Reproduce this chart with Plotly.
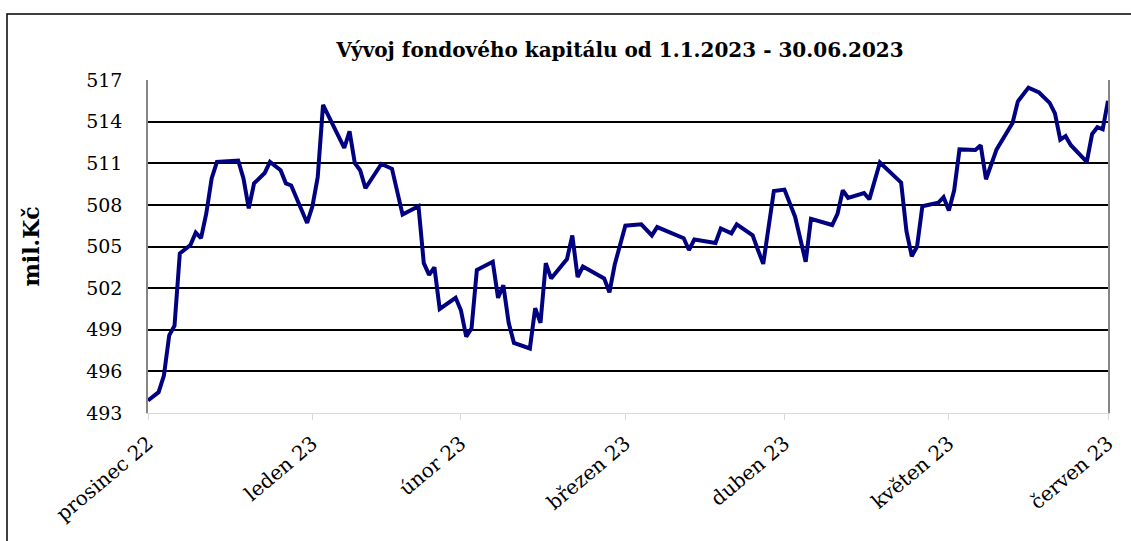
import plotly.graph_objects as go

# ---- data ----
dates = [
    "2023-01-01", "2023-01-03", "2023-01-04", "2023-01-05", "2023-01-06", "2023-01-07",
    "2023-01-09", "2023-01-10", "2023-01-11", "2023-01-12", "2023-01-13", "2023-01-14",
    "2023-01-18", "2023-01-19", "2023-01-20", "2023-01-21", "2023-01-23", "2023-01-24",
    "2023-01-26", "2023-01-27", "2023-01-28", "2023-01-31",
    "2023-02-01", "2023-02-02", "2023-02-03", "2023-02-07", "2023-02-08", "2023-02-09",
    "2023-02-10", "2023-02-11", "2023-02-14", "2023-02-16", "2023-02-18", "2023-02-21",
    "2023-02-22", "2023-02-23", "2023-02-24", "2023-02-25", "2023-02-28", "2023-03-01",
    "2023-03-02", "2023-03-03",
    "2023-03-04", "2023-03-07", "2023-03-08", "2023-03-09", "2023-03-10", "2023-03-11",
    "2023-03-14", "2023-03-15", "2023-03-16", "2023-03-17", "2023-03-18", "2023-03-21",
    "2023-03-22", "2023-03-23", "2023-03-24", "2023-03-26", "2023-03-28", "2023-03-29",
    "2023-03-30",
    "2023-04-01", "2023-04-04", "2023-04-06", "2023-04-07", "2023-04-12", "2023-04-13",
    "2023-04-14", "2023-04-18", "2023-04-19", "2023-04-21", "2023-04-22", "2023-04-25",
    "2023-04-26", "2023-04-27", "2023-04-29",
    "2023-05-01", "2023-05-03", "2023-05-05", "2023-05-06", "2023-05-10", "2023-05-11",
    "2023-05-12", "2023-05-13", "2023-05-16", "2023-05-17", "2023-05-19", "2023-05-23",
    "2023-05-24", "2023-05-25", "2023-05-26", "2023-05-27", "2023-05-30",
    "2023-05-31", "2023-06-01", "2023-06-02", "2023-06-03", "2023-06-06", "2023-06-07",
    "2023-06-08", "2023-06-10", "2023-06-13", "2023-06-14", "2023-06-16", "2023-06-18",
    "2023-06-20", "2023-06-21", "2023-06-22", "2023-06-23", "2023-06-24", "2023-06-27",
    "2023-06-28", "2023-06-29", "2023-06-30", "2023-07-01",
]
capital = [
    493.9, 494.5, 495.7, 498.6, 499.3, 504.5,
    505.1, 506.0, 505.6, 507.4, 509.9, 511.1,
    511.2, 509.9, 507.75, 509.55, 510.3, 511.1,
    510.5, 509.55, 509.4, 506.7,
    507.9, 510.0, 515.2, 512.1, 513.3, 511.0,
    510.5, 509.2, 510.95, 510.6, 507.3, 507.9,
    503.8, 502.95, 503.5, 500.5, 501.3, 500.4,
    498.5, 499.1,
    503.3, 503.9, 501.3, 502.2, 499.5, 498.05,
    497.65, 500.55, 499.5, 503.8, 502.7, 504.1,
    505.8, 502.8, 503.55, 503.1, 502.7, 501.7,
    503.7,
    506.5, 506.6, 505.8, 506.4, 505.6, 504.75,
    505.5, 505.25, 506.3, 505.95, 506.6, 505.8,
    504.75, 503.75, 509.0,
    509.1, 507.15, 503.9, 507.0, 506.55, 507.35,
    509.05, 508.5, 508.85, 508.4, 511.05, 509.6,
    506.1, 504.3, 505.0, 507.9, 508.15,
    508.55, 507.6, 509.05, 512.0, 511.95, 512.3,
    509.85, 512.0, 513.9, 515.45, 516.45, 516.1,
    515.35, 514.6, 512.7, 512.95, 512.3, 511.1,
    513.1, 513.6, 513.45, 515.5,
]
month_ticks = ["2023-01-01", "2023-02-01", "2023-03-01", "2023-04-01",
               "2023-05-01", "2023-06-01", "2023-07-01"]
month_labels = ["prosinec 22", "leden 23", "únor 23", "březen 23",
                "duben 23", "květen 23", "červen 23"]
y_ticks = [493, 496, 499, 502, 505, 508, 511, 514, 517]

title_text = "Vývoj fondového kapitálu od 1.1.2023 - 30.06.2023"
y_title = "mil.Kč"

FONT = "DejaVu Serif"

fig = go.Figure()
fig.add_trace(go.Scatter(
    x=dates, y=capital, mode="lines",
    line=dict(color="#000080", width=4),
    showlegend=False, hoverinfo="x+y",
))

# plot area: x 148..1108, y 80..413 in a 1131x541 canvas
L, R, T, B = 148, 23, 80, 128
W, H = 1131, 541
pw, ph = W - L - R, H - T - B


def px_x(px):
    return (px - L) / pw


def px_y(py):
    return (H - B - py) / ph


fig.update_layout(
    width=W, height=H,
    margin=dict(l=L, r=R, t=T, b=B),
    paper_bgcolor="white", plot_bgcolor="white",
    font=dict(family=FONT, color="black", size=19),
    title=dict(
        text="<b>" + title_text + "</b>",
        x=620 / W, xanchor="center",
        y=1 - 50 / H, yanchor="middle",
        font=dict(family=FONT, size=20, color="black"),
    ),
    xaxis=dict(
        type="date",
        range=[month_ticks[0], month_ticks[-1]],
        tickmode="array", tickvals=month_ticks, ticktext=month_labels,
        tickangle=-40,
        ticks="outside", ticklen=6, tickcolor="#d9d9d9", tickwidth=1,
        showline=True, linecolor="#d9d9d9", linewidth=1,
        showgrid=False, zeroline=False,
        tickfont=dict(family=FONT, size=20, color="black"),
        ticklabelstandoff=4,
    ),
    yaxis=dict(
        range=[y_ticks[0], y_ticks[-1]],
        tickmode="array", tickvals=y_ticks,
        ticktext=[str(v) for v in y_ticks],
        showgrid=True, gridcolor="black", gridwidth=2,
        showline=True, linecolor="#868686", linewidth=1.5, mirror=True,
        ticks="", zeroline=False,
        tickfont=dict(family=FONT, size=19, color="black"),
        ticklabelstandoff=20,
    ),
    annotations=[dict(
        text="<b>" + y_title + "</b>",
        xref="paper", yref="paper",
        x=px_x(30), y=0.5, xanchor="center", yanchor="middle",
        textangle=-90, showarrow=False,
        font=dict(family=FONT, size=22, color="black"),
    )],
    shapes=[dict(
        type="rect", xref="paper", yref="paper",
        x0=px_x(7), x1=px_x(1160), y0=px_y(570), y1=px_y(14),
        line=dict(color="black", width=1.5), fillcolor="rgba(0,0,0,0)",
        layer="below",
    )],
)

fig.write_html(
    "out.html",
    config={"displayModeBar": False},
    post_script="document.body.style.margin='0px';document.body.style.overflow='hidden';",
)
